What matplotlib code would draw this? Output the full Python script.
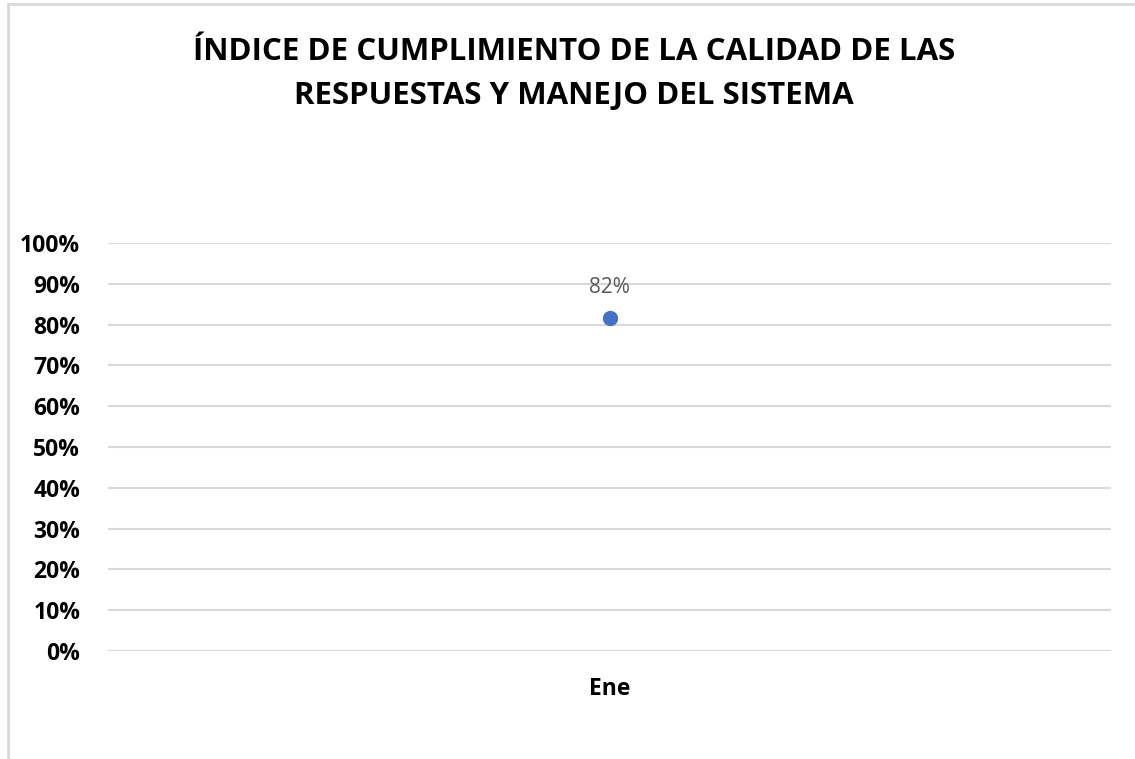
import matplotlib.pyplot as plt
from matplotlib.lines import Line2D
from matplotlib.ticker import PercentFormatter

months = ['Ene']
values = [0.816]
labels = ['82%']
yticks = [0, 0.1, 0.2, 0.3, 0.4, 0.5, 0.6, 0.7, 0.8, 0.9, 1.0]

plt.rcParams['font.family'] = ['Open Sans', 'DejaVu Sans']

fig = plt.figure(figsize=(11.35, 7.59), dpi=100)
ax = fig.add_axes([108 / 1135, 1 - 651 / 759, (1111 - 108) / 1135, (651 - 243) / 759])

ax.plot(range(len(months)), values, 'o', color='#4472C4', markersize=10, zorder=3)
for i, (v, lab) in enumerate(zip(values, labels)):
    ax.annotate(lab, (i, v), xytext=(0, 22), textcoords='offset points',
                ha='center', va='center', fontsize=15, color='#595959')

ax.set_xlim(-0.5, len(months) - 0.5)
ax.set_ylim(0, 1)
ax.set_yticks(yticks)
ax.yaxis.set_major_formatter(PercentFormatter(1.0, decimals=0))
ax.set_xticks(range(len(months)))
ax.set_xticklabels(months)
ax.grid(axis='y', color='#d9d9d9', linewidth=1.5)
ax.set_axisbelow(True)
for s in ax.spines.values():
    s.set_visible(False)
ax.tick_params(axis='y', length=0, pad=20, labelsize=16.5)
ax.tick_params(axis='x', length=0, pad=19, labelsize=16.5)
for t in ax.get_yticklabels() + ax.get_xticklabels():
    t.set_fontweight('bold')
    t.set_color('black')

fig.text(574 / 1135, 1 - 74 / 759,
         'ÍNDICE DE CUMPLIMIENTO DE LA CALIDAD DE LAS\nRESPUESTAS Y MANEJO DEL SISTEMA',
         ha='center', va='center', fontsize=22.5, fontweight='bold',
         color='black', linespacing=1.62)

# chart area border (left and top edges visible)
fig.add_artist(Line2D([8 / 1135, 8 / 1135], [0, 1 - 4 / 759], transform=fig.transFigure,
                      color='#d9d9d9', linewidth=2))
fig.add_artist(Line2D([8 / 1135, 1], [1 - 4 / 759, 1 - 4 / 759], transform=fig.transFigure,
                      color='#d9d9d9', linewidth=2))

fig.savefig('out.png', dpi=100)
